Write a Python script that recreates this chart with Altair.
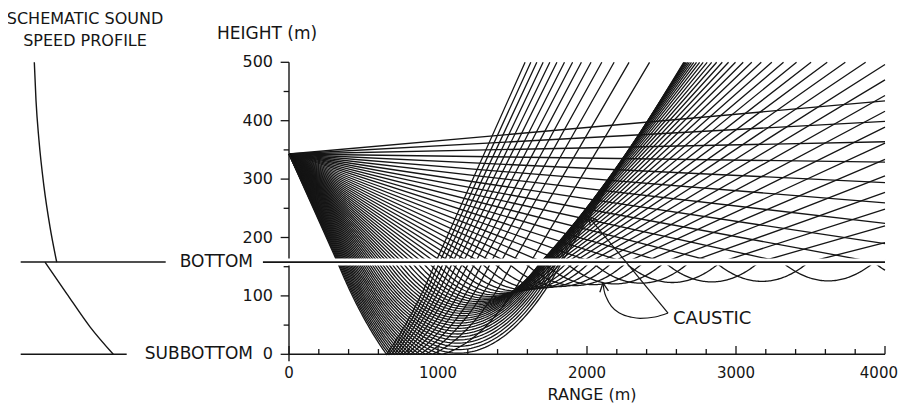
import math
import pandas as pd
import altair as alt

alt.data_transformers.disable_max_rows()

# ------------------------------------------------------------------ data
# launch angles of the rays drawn from the source (degrees, + = upward)
LAUNCH_ANGLES_DEG = [
    1.3, 0.8, 0.3, -0.2, -0.7, -1.2, -1.7, -2.2, -2.7, -3.2, -3.7, -4.2,
    -4.7, -5.2, -5.7, -6.2, -6.7, -7.2, -7.7, -8.2, -8.7, -9.2, -9.7, -10.2,
    -10.7, -11.2, -11.7, -12.2, -12.7, -13.2, -13.7, -14.2, -14.7, -15.2,
    -15.7, -16.2, -16.7, -17.2, -17.7, -18.2, -18.7, -19.2, -19.7, -20.2,
    -20.7, -21.2, -21.7, -22.2, -22.7, -23.2, -23.7, -24.2, -24.7, -25.2,
    -25.7, -26.2, -26.7, -27.2, -27.7, -28.2, -28.7, -29.2, -29.7,
]

SOURCE_HEIGHT_M = 343.0
BOTTOM_HEIGHT_M = 158.0
SUBBOTTOM_HEIGHT_M = 0.0
WATER_SPEED = 1500.0          # m/s, uniform water
SEDIMENT_TOP_SPEED = 1470.0   # m/s at the bottom interface
SEDIMENT_GRADIENT = 1.0       # (m/s)/m increase with depth
RANGE_MAX_M = 4000.0
HEIGHT_MAX_M = 500.0

X_LABEL_VALUES = [0, 1000, 2000, 3000, 4000]
X_TICK_VALUES = [0, 200, 400, 600, 800, 1000, 1200, 1400, 1600, 1800, 2000,
                 2200, 2400, 2600, 2800, 3000, 3200, 3400, 3600, 3800, 4000]
Y_LABEL_VALUES = [0, 100, 200, 300, 400, 500]
Y_MINOR_TICK_VALUES = [50, 150, 250, 350, 450]

# schematic sound-speed profile
PROFILE_WATER_HEIGHT = [500, 435, 366, 287, 218, 158]
PROFILE_WATER_SPEED = [1442.6, 1446.9, 1454.6, 1467.4, 1482.8, 1500.0]
PROFILE_SED_HEIGHT = [158, 104, 47, 0]
PROFILE_SED_SPEED = [1470.0, 1525.6, 1585.4, 1645.1]

# CAUSTIC pointers (range m, height m)
CAUSTIC_LINE_RANGE = [2544, 2007]
CAUSTIC_LINE_HEIGHT = [70.7, 236.8]
CAUSTIC_CURVE_RANGE = [2107, 2114, 2132, 2166, 2221, 2300, 2356, 2456, 2544]
CAUSTIC_CURVE_HEIGHT = [122.1, 110.1, 96.4, 81.5, 70.2, 63.4, 61.6, 63.9, 70.7]

# ------------------------------------------------------------------ ray trace
N_ARC = 40


def trace(theta_deg):
    t = math.radians(abs(theta_deg))
    pts = [(0.0, SOURCE_HEIGHT_M)]
    far = RANGE_MAX_M * 2
    if theta_deg >= 0:
        pts.append((far, SOURCE_HEIGHT_M + far * math.tan(t)))
        return pts
    drop = SOURCE_HEIGHT_M - BOTTOM_HEIGHT_M
    xb = drop / math.tan(t)
    pts.append((xb, BOTTOM_HEIGHT_M))
    if xb > RANGE_MAX_M:
        return pts
    a = math.cos(t) / WATER_SPEED
    R = 1.0 / (a * SEDIMENT_GRADIENT)
    d0 = SEDIMENT_TOP_SPEED / SEDIMENT_GRADIENT
    dmax = d0 + (BOTTOM_HEIGHT_M - SUBBOTTOM_HEIGHT_M)
    psi0 = math.acos(min(1.0, d0 / R))
    psi_low = math.acos(dmax / R) if R > dmax else 0.0
    xc = xb + R * math.sin(psi0)
    down = []
    for i in range(1, N_ARC + 1):
        psi = -psi0 + (psi0 - psi_low) * i / N_ARC
        x = xc + R * math.sin(psi)
        d = R * math.cos(psi)
        down.append((x, BOTTOM_HEIGHT_M - (d - d0)))
    x_low = down[-1][0]
    up = [(2 * x_low - x, y) for (x, y) in reversed(down[:-1])]
    xe = 2 * x_low - xb
    up.append((xe, BOTTOM_HEIGHT_M))
    pts += down + up
    pts.append((xe + (HEIGHT_MAX_M - BOTTOM_HEIGHT_M) / math.tan(t), HEIGHT_MAX_M))
    return pts


def clip(pts):
    out = [pts[0]]
    for (x0, y0), (x1, y1) in zip(pts[:-1], pts[1:]):
        f = 1.0
        if x1 > RANGE_MAX_M and x1 != x0:
            f = min(f, (RANGE_MAX_M - x0) / (x1 - x0))
        if y1 > HEIGHT_MAX_M and y1 != y0:
            f = min(f, (HEIGHT_MAX_M - y0) / (y1 - y0))
        if f < 1.0:
            out.append((x0 + f * (x1 - x0), y0 + f * (y1 - y0)))
            break
        out.append((x1, y1))
    return out


rows = []
for k, ang in enumerate(LAUNCH_ANGLES_DEG):
    for i, (x, y) in enumerate(clip(trace(ang))):
        rows.append({"ray": k, "i": i, "x": x, "y": y})
ray_df = pd.DataFrame(rows)

# ------------------------------------------------------------------ layout
W, H = 890, 397
X_RANGE_PX = [281, 877]
Y_RANGE_PX = [346.3, 54.3]
PROFILE_RANGE_PX = [9.7, 126.7]
INK = "#151515"
FONT = "DejaVu Sans"

xs = alt.Scale(domain=[0, 4000], range=X_RANGE_PX, nice=False, zero=False)
ys = alt.Scale(domain=[0, 500], range=Y_RANGE_PX, nice=False, zero=False)


def X(f):
    return alt.X(f, scale=xs, axis=None)


def Y(f):
    return alt.Y(f, scale=ys, axis=None)


rays = alt.Chart(ray_df).mark_line(color=INK, strokeWidth=1.3).encode(
    x=X("x:Q"), y=Y("y:Q"), detail="ray:N", order="i:Q")

# ---- axes (drawn through the scales)
axis_lines_df = pd.DataFrame({"x0": [0, 0], "x1": [0, RANGE_MAX_M],
                              "y0": [-12, 0], "y1": [HEIGHT_MAX_M, 0]})
axis_lines = alt.Chart(axis_lines_df).mark_rule(color=INK, strokeWidth=1.4).encode(
    x=X("x0:Q"), x2="x1:Q", y=Y("y0:Q"), y2="y1:Q")

xticks = alt.Chart(pd.DataFrame({"v": X_TICK_VALUES})).transform_calculate(
    y0="0", y1="datum.v % 1000 == 0 ? 14 : 9"
).mark_rule(color=INK, strokeWidth=1.3).encode(x=X("v:Q"), y=Y("y0:Q"), y2="y1:Q")

yticks = alt.Chart(pd.DataFrame({"v": Y_LABEL_VALUES + Y_MINOR_TICK_VALUES})).transform_calculate(
    x0="datum.v % 100 == 0 ? -56 : -36", x1="0"
).mark_rule(color=INK, strokeWidth=1.3).encode(x=X("x0:Q"), x2="x1:Q", y=Y("v:Q"))

xlabel_df = pd.DataFrame({"v": X_LABEL_VALUES})
xlabels = alt.Chart(xlabel_df).transform_filter(f"datum.v < {RANGE_MAX_M}").transform_calculate(
    y0="0", t="format(datum.v, 'd')"
).mark_text(align="center", baseline="middle", dy=19, font=FONT, fontSize=15, color=INK).encode(
    x=X("v:Q"), y=Y("y0:Q"), text="t:N")
xlabel_last = alt.Chart(xlabel_df).transform_filter(f"datum.v >= {RANGE_MAX_M}").transform_calculate(
    y0="0", t="format(datum.v, 'd')"
).mark_text(align="right", baseline="middle", dx=13, dy=19, font=FONT, fontSize=15, color=INK).encode(
    x=X("v:Q"), y=Y("y0:Q"), text="t:N")

ylabels = alt.Chart(pd.DataFrame({"v": Y_LABEL_VALUES})).transform_calculate(
    x0="0", t="format(datum.v, 'd')"
).mark_text(align="right", baseline="middle", dx=-16, font=FONT, fontSize=16, color=INK).encode(
    x=X("x0:Q"), y=Y("v:Q"), text="t:N")

bottom_df = pd.DataFrame({"x0": [-175], "x1": [RANGE_MAX_M], "y": [BOTTOM_HEIGHT_M]})
halo = alt.Chart(bottom_df).mark_rule(color="white", strokeWidth=7).encode(
    x=X("x0:Q"), x2="x1:Q", y=Y("y:Q"))
bottom_line = alt.Chart(bottom_df).mark_rule(color=INK, strokeWidth=1.8).encode(
    x=X("x0:Q"), x2="x1:Q", y=Y("y:Q"))

line_df = pd.DataFrame({"i": [0, 1], "x": CAUSTIC_LINE_RANGE, "y": CAUSTIC_LINE_HEIGHT})
curve_df = pd.DataFrame({"i": list(range(len(CAUSTIC_CURVE_RANGE))),
                         "x": CAUSTIC_CURVE_RANGE, "y": CAUSTIC_CURVE_HEIGHT})
pointer_line = alt.Chart(line_df).mark_line(color=INK, strokeWidth=1.2).encode(
    x=X("x:Q"), y=Y("y:Q"), order="i:Q")
pointer_curve = alt.Chart(curve_df).mark_line(color=INK, strokeWidth=1.2,
                                              interpolate="monotone").encode(
    x=X("x:Q"), y=Y("y:Q"), order="i:Q")

ARROW_SHAPE = "M -0.5 1 L 0 0 L 0.5 1"
head1 = alt.Chart(pd.DataFrame({"x": [CAUSTIC_LINE_RANGE[1]], "y": [CAUSTIC_LINE_HEIGHT[1]]})).mark_point(
    shape=ARROW_SHAPE, filled=False, color=INK, strokeWidth=1.3, size=300, opacity=1).encode(
    x=X("x:Q"), y=Y("y:Q"), angle=alt.value(320))
head2 = alt.Chart(pd.DataFrame({"x": [CAUSTIC_CURVE_RANGE[0]], "y": [CAUSTIC_CURVE_HEIGHT[0]]})).mark_point(
    shape=ARROW_SHAPE, filled=False, color=INK, strokeWidth=1.3, size=300, opacity=1).encode(
    x=X("x:Q"), y=Y("y:Q"), angle=alt.value(352))

label_df = pd.DataFrame({"t": ["BOTTOM", "SUBBOTTOM"], "y": [BOTTOM_HEIGHT_M, SUBBOTTOM_HEIGHT_M]})
side_labels = alt.Chart(label_df).mark_text(
    align="right", baseline="middle", font=FONT, fontSize=17, color=INK).encode(
    x=alt.value(245), y=Y("y:Q"), text="t:N")


def free_text(txt, x, y, size, align="left", baseline="alphabetic"):
    return alt.Chart(pd.DataFrame({"t": [txt]})).mark_text(
        align=align, baseline=baseline, font=FONT, fontSize=size, color=INK).encode(
        x=alt.value(x), y=alt.value(y), text="t:N")


t1 = free_text("SCHEMATIC SOUND", 77, 16, 16, align="center")
t2 = free_text("SPEED PROFILE", 77, 38, 16, align="center")
t3 = free_text("HEIGHT (m)", 209, 31, 17)
t4 = free_text("CAUSTIC", 665, 311, 18, baseline="middle")
t5 = free_text("RANGE (m)", 584, 392, 16, align="center", baseline="alphabetic")

left_lines_df = pd.DataFrame({"x0": [12.7, 12.7], "x1": [157.7, 118.7],
                              "y": [BOTTOM_HEIGHT_M, SUBBOTTOM_HEIGHT_M]})
left_lines = alt.Chart(left_lines_df).mark_rule(color=INK, strokeWidth=1.6).encode(
    x=alt.X("x0:Q", scale=alt.Scale(domain=[0, W], range=[0, W]), axis=None),
    x2="x1:Q",
    y=Y("y:Q"))

main = alt.layer(rays, axis_lines, halo, bottom_line, xticks, yticks, xlabels, xlabel_last,
                 ylabels, pointer_line, pointer_curve, head1, head2, side_labels,
                 t1, t2, t3, t4, t5)

prof_df = pd.concat([
    pd.DataFrame({"seg": "water", "i": range(len(PROFILE_WATER_HEIGHT)),
                  "speed": PROFILE_WATER_SPEED, "h": PROFILE_WATER_HEIGHT}),
    pd.DataFrame({"seg": "sediment", "i": range(len(PROFILE_SED_HEIGHT)),
                  "speed": PROFILE_SED_SPEED, "h": PROFILE_SED_HEIGHT}),
])
profile = alt.Chart(prof_df).mark_line(color=INK, strokeWidth=1.4, interpolate="monotone").encode(
    x=alt.X("speed:Q", scale=alt.Scale(domain=[1400, 1700], range=PROFILE_RANGE_PX,
                                       nice=False, zero=False), axis=None),
    y=Y("h:Q"),
    detail="seg:N", order="speed:Q")

chart = alt.layer(profile, left_lines, main).resolve_scale(x="independent").properties(
    width=W, height=H, autosize=alt.AutoSizeParams(type="none"), padding=0,
    background="white",
).configure_view(stroke=None)

chart.save("out.html", embed_options={"renderer": "svg", "actions": False})
